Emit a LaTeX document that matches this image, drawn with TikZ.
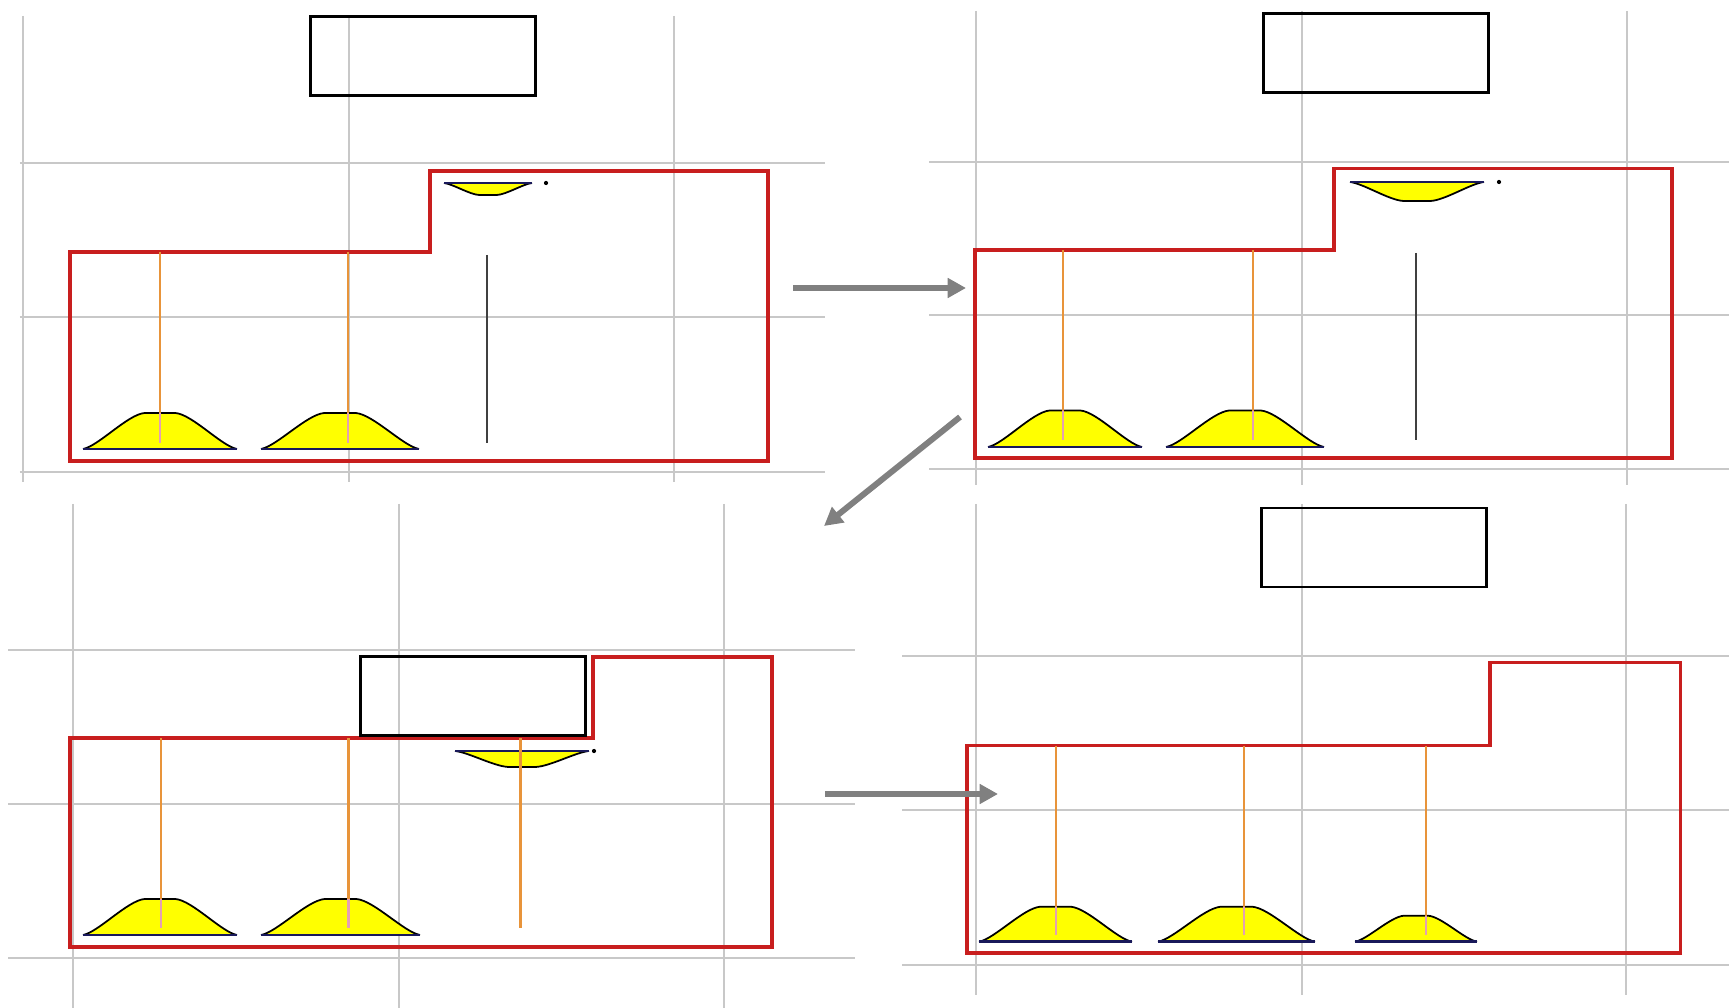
\documentclass[tikz,border=0pt]{standalone}
\usetikzlibrary{arrows.meta}
\definecolor{gridgray}{RGB}{200,200,200}
\definecolor{wallred}{RGB}{200,30,30}
\definecolor{stemorange}{RGB}{232,148,58}
\definecolor{stempink}{RGB}{228,160,178}
\definecolor{sand}{RGB}{255,255,0}
\definecolor{basenavy}{RGB}{25,25,90}
\definecolor{arrowgray}{RGB}{128,128,128}
\tikzset{
  gridline/.style={gridgray,line width=0.5pt},
  wall/.style={wallred,line width=1pt,line join=miter},
  block/.style={draw=black,line width=0.85pt,inner sep=0pt,minimum width=2.25cm,minimum height=0.79cm},
  stem/.style={stemorange,line width=0.6pt},
  stemlow/.style={stempink,line width=0.6pt},
  rod/.style={black!75,line width=0.75pt},
  heap/.style={fill=sand,draw=black,line width=0.5pt},
  heapbase/.style={basenavy,line width=0.7pt},
  flow/.style={arrowgray,line width=1.7pt,-{Triangle[length=5.2pt,width=5.4pt]}},
}
\newcommand{\sandpile}[4]{%
  \filldraw[heap] ({#1-#2},{#3}) .. controls ({#1-0.8*#2},{#3-0.08*(#4)}) and ({#1-0.42*#2},{#3-0.96*(#4)}) .. ({#1-0.2*#2},{#3-(#4)})
    -- ({#1+0.2*#2},{#3-(#4)}) .. controls ({#1+0.42*#2},{#3-0.96*(#4)}) and ({#1+0.8*#2},{#3-0.08*(#4)}) .. ({#1+#2},{#3});
  \draw[heapbase] ({#1-#2},{#3}) -- ({#1+#2},{#3});}

\begin{document}
\begin{tikzpicture}[x=1cm,y=-1cm]
\useasboundingbox (0,0) rectangle (17.29,10.08);

\draw[gridline] (0.23,0.16) -- (0.23,4.82);
\draw[gridline] (3.49,0.16) -- (3.49,4.82);
\draw[gridline] (6.74,0.16) -- (6.74,4.82);
\draw[gridline] (0.20,1.63) -- (8.25,1.63);
\draw[gridline] (0.20,3.17) -- (8.25,3.17);
\draw[gridline] (0.20,4.72) -- (8.25,4.72);

\draw[gridline] (9.76,0.11) -- (9.76,4.85);
\draw[gridline] (13.02,0.11) -- (13.02,4.85);
\draw[gridline] (16.27,0.11) -- (16.27,4.85);
\draw[gridline] (9.29,1.62) -- (17.29,1.62);
\draw[gridline] (9.29,3.15) -- (17.29,3.15);
\draw[gridline] (9.29,4.69) -- (17.29,4.69);

\draw[gridline] (0.73,5.04) -- (0.73,10.08);
\draw[gridline] (3.99,5.04) -- (3.99,10.08);
\draw[gridline] (7.24,5.04) -- (7.24,10.08);
\draw[gridline] (0.08,6.50) -- (8.55,6.50);
\draw[gridline] (0.08,8.04) -- (8.55,8.04);
\draw[gridline] (0.08,9.58) -- (8.55,9.58);

\draw[gridline] (9.76,5.04) -- (9.76,9.95);
\draw[gridline] (13.02,5.04) -- (13.02,9.95);
\draw[gridline] (16.26,5.04) -- (16.26,9.95);
\draw[gridline] (9.02,6.56) -- (17.29,6.56);
\draw[gridline] (9.02,8.10) -- (17.29,8.10);
\draw[gridline] (9.02,9.65) -- (17.29,9.65);

\draw[wall] (0.70,2.52) -- (0.70,4.61) -- (7.68,4.61) -- (7.68,1.71) -- (4.30,1.71) -- (4.30,2.52) -- cycle;
\sandpile{1.60}{0.77}{4.49}{0.36}
\sandpile{3.40}{0.79}{4.49}{0.36}
\draw[stem] (1.60,2.52) -- (1.60,4.13);
\draw[stemlow] (1.60,4.13) -- (1.60,4.43);
\draw[stem] (3.48,2.52) -- (3.48,4.13);
\draw[stemlow] (3.48,4.13) -- (3.48,4.43);
\sandpile{4.88}{0.44}{1.83}{-0.12}
\fill (5.46,1.83) circle (0.6pt);
\draw[rod] (4.87,2.55) -- (4.87,4.43);
\node[block] (block1) at (4.23,0.56) {};

\draw[wall] (9.75,2.50) -- (9.75,4.58) -- (16.72,4.58) -- (16.72,1.685) -- (13.34,1.685) -- (13.34,2.50) -- cycle;
\sandpile{10.65}{0.77}{4.47}{0.365}
\sandpile{12.45}{0.79}{4.47}{0.365}
\draw[stem] (10.63,2.50) -- (10.63,4.11);
\draw[stemlow] (10.63,4.11) -- (10.63,4.40);
\draw[stem] (12.53,2.50) -- (12.53,4.11);
\draw[stemlow] (12.53,4.11) -- (12.53,4.40);
\sandpile{14.17}{0.67}{1.82}{-0.19}
\fill (14.99,1.82) circle (0.6pt);
\draw[rod] (14.16,2.53) -- (14.16,4.40);
\node[block] (block2) at (13.755,0.53) {};

\draw[wall] (0.70,7.38) -- (0.70,9.47) -- (7.72,9.47) -- (7.72,6.57) -- (5.93,6.57) -- (5.93,7.38) -- cycle;
\sandpile{1.60}{0.77}{9.35}{0.36}
\sandpile{3.405}{0.795}{9.35}{0.36}
\draw[stem] (1.61,7.38) -- (1.61,8.99);
\draw[stemlow] (1.61,8.99) -- (1.61,9.28);
\draw[stem] (3.485,7.38) -- (3.485,8.99);
\draw[stemlow] (3.485,8.99) -- (3.485,9.28);
\sandpile{5.22}{0.67}{7.51}{-0.16}
\draw[stem] (5.205,7.38) -- (5.205,9.28);
\fill (5.94,7.51) circle (0.6pt);
\node[block] (block3) at (4.73,6.96) {};

\draw[wall] (9.67,7.455) -- (9.67,9.53) -- (16.805,9.53) -- (16.805,6.627) -- (14.90,6.627) -- (14.90,7.455) -- cycle;
\sandpile{10.555}{0.765}{9.417}{0.35}
\sandpile{12.365}{0.785}{9.417}{0.35}
\sandpile{14.16}{0.61}{9.417}{0.26}
\draw[stem] (10.56,7.455) -- (10.56,9.07);
\draw[stemlow] (10.56,9.07) -- (10.56,9.35);
\draw[stem] (12.44,7.455) -- (12.44,9.07);
\draw[stemlow] (12.44,9.07) -- (12.44,9.35);
\draw[stem] (14.26,7.455) -- (14.26,9.16);
\draw[stemlow] (14.26,9.16) -- (14.26,9.35);
\node[block] (block4) at (13.74,5.475) {};

\coordinate (go1) at (7.93,2.88);
\coordinate (to1) at (9.66,2.88);
\coordinate (go2) at (9.60,4.17);
\coordinate (to2) at (8.24,5.26);
\coordinate (go3) at (8.25,7.94);
\coordinate (to3) at (9.98,7.94);
\draw[flow] (go1) -- (to1);
\draw[flow] (go2) -- (to2);
\draw[flow] (go3) -- (to3);
\end{tikzpicture}
\end{document}
